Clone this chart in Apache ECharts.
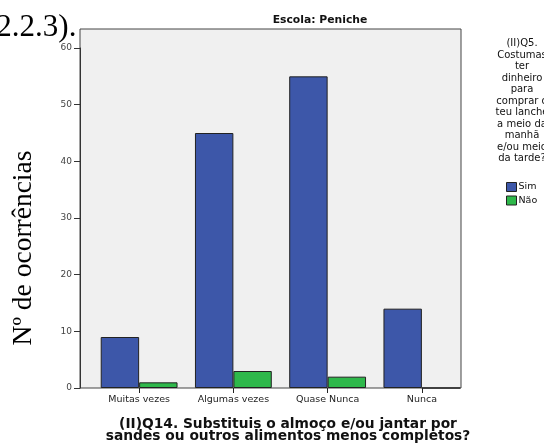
<!DOCTYPE html>
<html><head><meta charset="utf-8">
<script src="https://cdn.jsdelivr.net/npm/echarts@6/dist/echarts.min.js"></script>
<style>html,body{margin:0;padding:0;background:#fff}#c{width:544px;height:443px}</style>
</head><body><div id="c"></div>
<script>
const categories = ['Muitas vezes', 'Algumas vezes', 'Quase Nunca', 'Nunca'];
const simValues = [9, 45, 55, 14];
const naoValues = [1, 3, 2, 0];
const seriesNames = ['Sim', 'Não'];
const yTicks = [0, 10, 20, 30, 40, 50, 60];
const chartTitle = 'Escola: Peniche';
const xTitle = '(II)Q14. Substituis o almoço e/ou jantar por\nsandes ou outros alimentos menos completos?';
const yTitle = 'Nº de ocorrências';
const legendTitle = '(II)Q5.\nCostumas\nter\ndinheiro\npara\ncomprar o\nteu lanche\na meio da\nmanhã\ne/ou meio\nda tarde?';
const docText = '(2.2.3).';

const chart = echarts.init(document.getElementById('c'), null, {renderer: 'canvas'});
const sans = 'DejaVu Sans';
const yMin = yTicks[0], yMax = yTicks[yTicks.length - 1], yStep = yTicks[1] - yTicks[0];

chart.setOption({
  animation: false,
  backgroundColor: '#ffffff',
  title: [
    {text: chartTitle, left: 315, top: 10, textAlign: 'center',
     textStyle: {fontFamily: sans, fontSize: 10.8, fontWeight: 'bold', color: '#111'}},
    {text: legendTitle, left: 517, top: 33, textAlign: 'center',
     textStyle: {fontFamily: sans, fontSize: 10, fontWeight: 'normal', color: '#111', lineHeight: 11.5}}
  ],
  graphic: [
    {type: 'text', left: -14, top: 12,
     style: {text: docText, font: '31px "Liberation Serif"', fill: '#000'}},
    {type: 'text', x: 24, y: 248, rotation: Math.PI / 2,
     style: {text: yTitle, font: '27.5px "Liberation Serif"', fill: '#000', align: 'center', verticalAlign: 'middle'}}
  ],
  legend: {
    orient: 'vertical', left: 501, top: 177, itemWidth: 10, itemHeight: 9, itemGap: 3.5,
    icon: 'rect', data: seriesNames,
    textStyle: {fontFamily: sans, fontSize: 9.5, color: '#111', padding: [0, 0, 0, -3]},
    itemStyle: {borderColor: '#222', borderWidth: 1}
  },
  grid: [
    {left: 80, right: 83, top: 29, bottom: 55, outerBoundsMode: 'none', containLabel: false,
     show: true, backgroundColor: '#f0f0f0', borderColor: '#444', borderWidth: 1},
    {left: 80, right: 83, top: 48, bottom: 55, outerBoundsMode: 'none', containLabel: false},
    {left: 92, right: 75, top: 48, bottom: 55, outerBoundsMode: 'none', containLabel: false}
  ],
  xAxis: [
    {gridIndex: 0, type: 'value', show: false},
    {gridIndex: 1, type: 'value', show: false},
    {gridIndex: 2, type: 'category', data: categories,
     axisLine: {show: false},
     axisTick: {show: true, alignWithLabel: true, length: 5, lineStyle: {color: '#222'}},
     axisLabel: {fontFamily: sans, fontSize: 9.5, color: '#222', margin: 7},
     name: xTitle, nameLocation: 'middle', nameGap: 30,
     nameTextStyle: {fontFamily: sans, fontSize: 13.8, fontWeight: 'bold', color: '#111', lineHeight: 12.5, padding: [0, 0, 0, 15]}}
  ],
  yAxis: [
    {gridIndex: 0, type: 'value', show: false},
    {gridIndex: 1, type: 'value', min: yMin, max: yMax, interval: yStep,
     axisLine: {show: true, lineStyle: {color: '#333'}},
     axisTick: {show: true, length: 6, lineStyle: {color: '#333'}},
     splitLine: {show: false},
     axisLabel: {fontFamily: sans, fontSize: 9, color: '#444', margin: 8}},
    {gridIndex: 2, type: 'value', min: yMin, max: yMax, show: false}
  ],
  series: [
    {name: seriesNames[0], type: 'bar', xAxisIndex: 2, yAxisIndex: 2, data: simValues,
     barGap: '0%', barCategoryGap: '18.5%',
     itemStyle: {color: '#3d57a9', borderColor: '#222', borderWidth: 1}},
    {name: seriesNames[1], type: 'bar', xAxisIndex: 2, yAxisIndex: 2, data: naoValues,
     barGap: '0%', barCategoryGap: '18.5%',
     itemStyle: {color: '#2eb84b', borderColor: '#222', borderWidth: 1}}
  ]
});
</script></body></html>
